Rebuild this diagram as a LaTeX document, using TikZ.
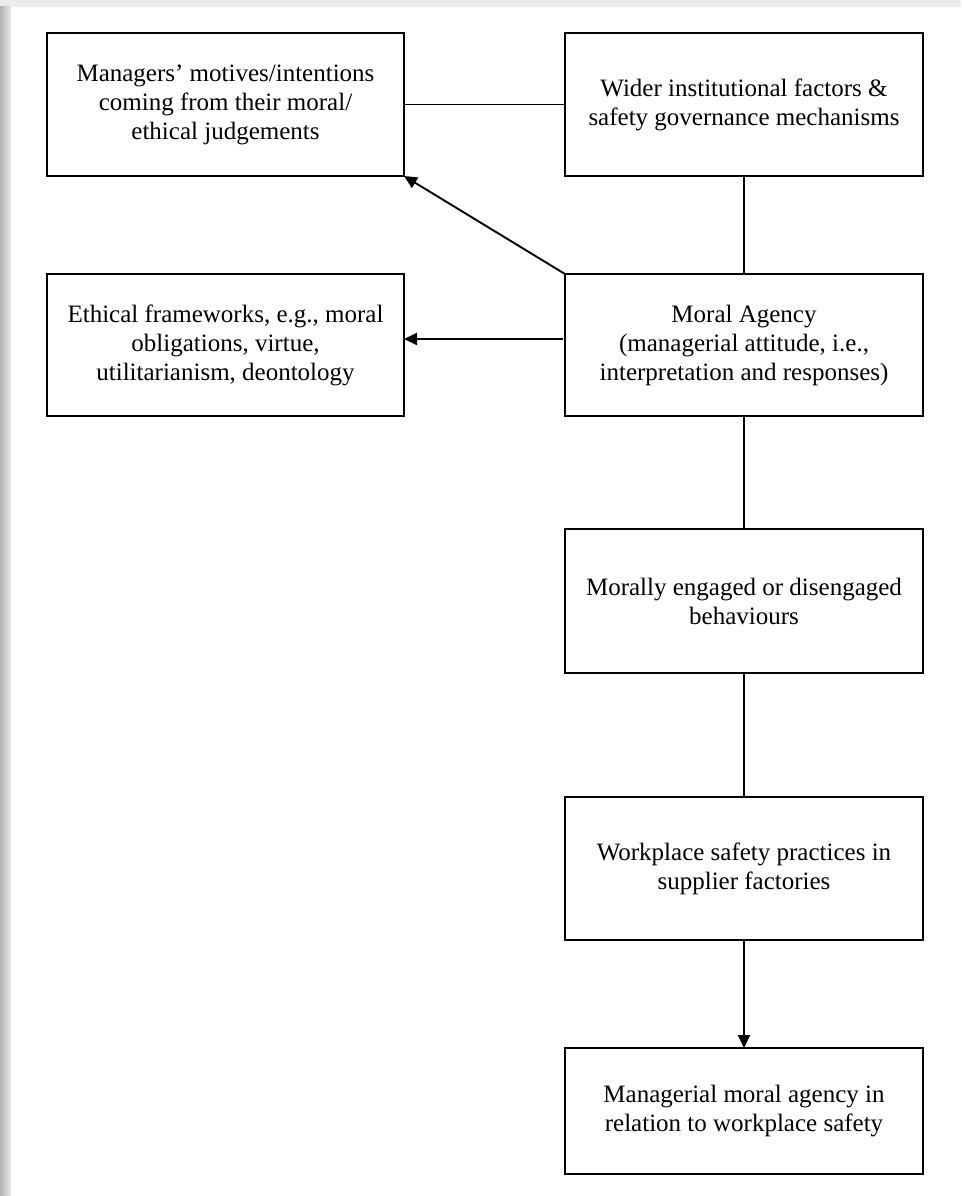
\documentclass[tikz,border=0pt]{standalone}
\usepackage{fontspec}
\setmainfont{Liberation Serif}
\usetikzlibrary{arrows.meta}
\begin{document}
\begin{tikzpicture}[x=1pt,y=-1pt,
  box/.style={draw=black,line width=2pt,rectangle,anchor=north west,
    inner sep=0pt,outer sep=0pt,align=center,
    font=\fontsize{25}{29}\selectfont},
  link/.style={draw=black,line width=1.9pt},
  arrow/.style={link,-{Triangle[length=13pt,width=12pt]}}]
  \useasboundingbox (0,0) rectangle (961,1196);
  % page background with a soft shadow along the top and left edges
  \fill[gray!15] (0,0) rectangle (961,1196);
  \shade[left color=gray!60,right color=gray!15] (0,7) rectangle (11,1196);
  \fill[white] (11,7) rectangle (961,1196);

  \node[box,minimum width=357pt,minimum height=143pt] (b1) at (47,33)
    {Managers’ motives/intentions\\coming from their moral/\\ethical judgements};
  \node[box,minimum width=358pt,minimum height=143pt] (b2) at (565,33)
    {Wider institutional factors \&\\safety governance mechanisms};
  \node[box,minimum width=357pt,minimum height=142pt] (b3) at (47,274)
    {Ethical frameworks, e.g., moral\\obligations, virtue,\\utilitarianism, deontology};
  \node[box,minimum width=358pt,minimum height=142pt] (b4) at (565,274)
    {Moral Agency\\(managerial attitude, i.e.,\\interpretation and responses)};
  \node[box,minimum width=358pt,minimum height=144pt] (b5) at (565,529)
    {Morally engaged or disengaged\\behaviours};
  \node[box,minimum width=358pt,minimum height=143pt] (b6) at (565,797)
    {Workplace safety practices in\\supplier factories};
  \node[box,minimum width=358pt,minimum height=126pt] (b7) at (565,1048)
    {Managerial moral agency in\\relation to workplace safety};

  % connectors
  \draw[link] (b1.east) -- (b2.west);
  \draw[link] (b2.south) -- (b4.north);
  \draw[arrow] (b4.north west) -- (b1.south east);
  \draw[arrow] ([shift={(-2pt,6pt)}]b4.west) -- ([yshift=6pt]b3.east);
  \draw[link] (b4.south) -- (b5.north);
  \draw[link] (b5.south) -- (b6.north);
  \draw[arrow] (b6.south) -- (b7.north);
\end{tikzpicture}
\end{document}
